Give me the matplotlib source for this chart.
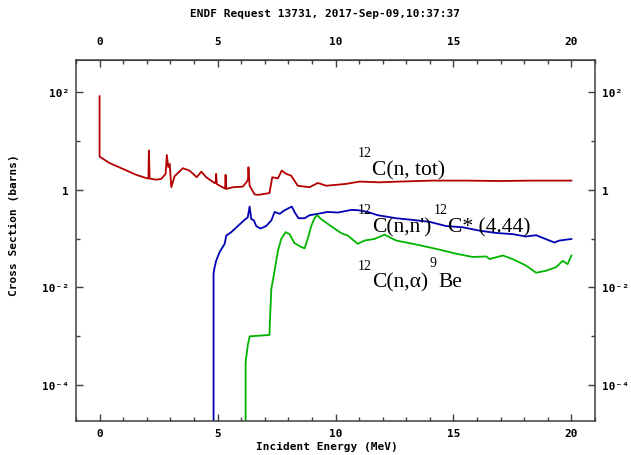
import matplotlib
matplotlib.use("Agg")
import matplotlib.pyplot as plt
from matplotlib.ticker import FixedLocator, FixedFormatter, NullFormatter

# --- data (energy in MeV, cross section in barns) ---
tot_E = [0.0, 0.0, 0.42, 0.99, 1.56, 2.0, 2.07, 2.09, 2.12, 2.40, 2.61, 2.80,
         2.85, 2.91, 2.97, 3.04, 3.18, 3.53, 3.81, 4.12, 4.31, 4.52, 4.87,
         4.92, 4.94, 4.97, 5.08, 5.32, 5.34, 5.37, 5.65, 6.07, 6.22, 6.29,
         6.31, 6.36, 6.57, 6.71, 7.20, 7.32, 7.56, 7.72, 7.91, 8.12, 8.40,
         8.90, 9.25, 9.61, 10.45, 11.02, 11.86, 12.71, 14.11, 15.54, 16.95,
         18.36, 20.0]
tot_xs = [81, 4.73, 3.5, 2.65, 2.0, 1.71, 1.70, 6.3, 1.68, 1.6, 1.65, 2.1,
          5.1, 2.9, 3.35, 1.12, 1.88, 2.74, 2.45, 1.79, 2.33, 1.79, 1.37,
          1.36, 2.1, 1.3, 1.21, 1.05, 2.0, 1.03, 1.12, 1.15, 1.41, 1.6,
          2.87, 1.2, 0.80, 0.78, 0.85, 1.79, 1.7, 2.45, 2.1, 1.93, 1.2,
          1.12, 1.37, 1.2, 1.31, 1.46, 1.41, 1.46, 1.53, 1.53, 1.5,
          1.53, 1.53]

inel_E = [4.83, 4.83, 4.87, 4.94, 5.08, 5.30, 5.37, 5.58, 5.86, 6.14, 6.28,
          6.36, 6.43, 6.54, 6.64, 6.82, 7.06, 7.28, 7.42, 7.63, 7.81, 7.98,
          8.15, 8.26, 8.43, 8.69, 8.90, 9.25, 9.67, 10.10, 10.67, 10.94,
          11.37, 11.79, 12.57, 13.28, 13.98, 14.69, 15.39, 16.10, 16.81,
          17.51, 18.08, 18.50, 19.07, 19.28, 19.49, 20.0]
inel_xs = [1e-8, 0.019, 0.025, 0.035, 0.052, 0.078, 0.115, 0.135, 0.18,
           0.24, 0.27, 0.45, 0.25, 0.235, 0.18, 0.16, 0.18, 0.235, 0.35,
           0.32, 0.37, 0.41, 0.45, 0.35, 0.26, 0.26, 0.30, 0.32, 0.35, 0.34,
           0.385, 0.38, 0.35, 0.30, 0.26, 0.24, 0.22, 0.18, 0.17, 0.145,
           0.13, 0.123, 0.11, 0.117, 0.091, 0.083, 0.091, 0.098]

alpha_E = [6.19, 6.19, 6.28, 6.36, 7.20, 7.23, 7.28, 7.42, 7.56, 7.70, 7.88,
           8.05, 8.26, 8.50, 8.69, 8.83, 8.97, 9.11, 9.22, 9.39, 9.67, 9.96,
           10.24, 10.52, 10.94, 11.23, 11.65, 12.08, 12.57, 13.28, 13.98,
           14.69, 15.11, 15.82, 16.39, 16.53, 17.09, 17.51, 18.08, 18.50,
           18.93, 19.35, 19.63, 19.84, 20.0]
alpha_xs = [1e-8, 2.95e-4, 6.5e-4, 1.0e-3, 1.07e-3, 2.6e-3, 9.3e-3, 0.0224,
            0.056, 0.098, 0.135, 0.123, 0.081, 0.069, 0.063, 0.102, 0.18,
            0.26, 0.30, 0.25, 0.20, 0.16, 0.129, 0.115, 0.078, 0.091, 0.098,
            0.12, 0.091, 0.078, 0.066, 0.055, 0.049, 0.042, 0.043, 0.038,
            0.045, 0.038, 0.028, 0.020, 0.022, 0.026, 0.035, 0.030, 0.045]

x_major = [0, 5, 10, 15, 20]
x_minor = list(range(-1, 22))
y_major = [1e-4, 1e-2, 1, 1e2]
y_major_labels = ["10\u207b\u2074", "10\u207b\u00b2", "1", "10\u00b2"]
y_minor = [1e-3, 1e-1, 10]

title = "ENDF Request 13731, 2017-Sep-09,10:37:37"

W, H = 631, 456
mono = dict(family="DejaVu Sans Mono", weight="bold", size=8)
serif = "Liberation Serif"
axis_col = "#404040"

fig = plt.figure(figsize=(W / 100, H / 100), dpi=100)
ax = fig.add_axes([76 / W, 1 - 422 / H, (595 - 76) / W, (422 - 61) / H])

ax.plot(tot_E, tot_xs, color="#b40000", lw=1.3)
ax.plot(inel_E, inel_xs, color="#0000b4", lw=1.3)
ax.plot(alpha_E, alpha_xs, color="#00b400", lw=1.3)

ax.set_yscale("log")
ax.set_xlim(-1.0, 21.0)
ax.set_ylim(10 ** -4.73, 10 ** 2.65)

ax.yaxis.set_major_locator(FixedLocator(y_major))
ax.yaxis.set_major_formatter(FixedFormatter(y_major_labels))
ax.yaxis.set_minor_locator(FixedLocator(y_minor))
ax.yaxis.set_minor_formatter(NullFormatter())
ax.xaxis.set_major_locator(FixedLocator(x_major))
ax.xaxis.set_minor_locator(FixedLocator(x_minor))

ax.tick_params(axis="both", which="both", direction="in", color=axis_col, width=1.0)
ax.tick_params(axis="both", which="major", length=5)
ax.tick_params(axis="both", which="minor", length=3)
ax.tick_params(axis="y", which="both", left=True, right=True,
               labelleft=True, labelright=True, pad=5)
ax.tick_params(axis="x", which="both", bottom=True, top=False, pad=5)

# top axis carries its own labels, further from the frame
secx = ax.secondary_xaxis("top")
secx.xaxis.set_major_locator(FixedLocator(x_major))
secx.xaxis.set_minor_locator(FixedLocator(x_minor))
secx.tick_params(which="both", direction="in", color=axis_col, width=1.0, pad=10)
secx.tick_params(which="major", length=5)
secx.tick_params(which="minor", length=3)
secx.spines["top"].set_color(axis_col)
for lab in secx.get_xticklabels():
    lab.set(**mono)

for lab in ax.get_xticklabels() + ax.get_yticklabels():
    lab.set(**mono)
for s in ax.spines.values():
    s.set_color(axis_col)
    s.set_linewidth(1.1)

fig.text(325 / W, 1 - 14 / H, title, ha="center", va="center", **mono)
fig.text(327 / W, 1 - 447 / H, "Incident Energy (MeV)", ha="center", va="center", **mono)
fig.text(14 / W, 1 - 225 / H, "Cross Section (barns)", ha="center", va="center",
         rotation=90, **mono)


def label(x, y, s, size):
    fig.text(x / W, 1 - y / H, s, ha="left", va="baseline", family=serif, size=size)


label(358, 157, "12", 10)
label(372, 175, "C(n, tot)", 15.5)
label(358, 214, "12", 10)
label(372, 232, "C(n,n')", 15.5)
label(434, 214, "12", 10)
label(448, 232, "C* (4.44)", 15.5)
label(358, 270, "12", 10)
label(372, 287, "C(n,\u03b1)", 15.5)
label(429, 267, "9", 10)
label(438, 287, "Be", 15.5)

fig.savefig("out.png", dpi=100)
